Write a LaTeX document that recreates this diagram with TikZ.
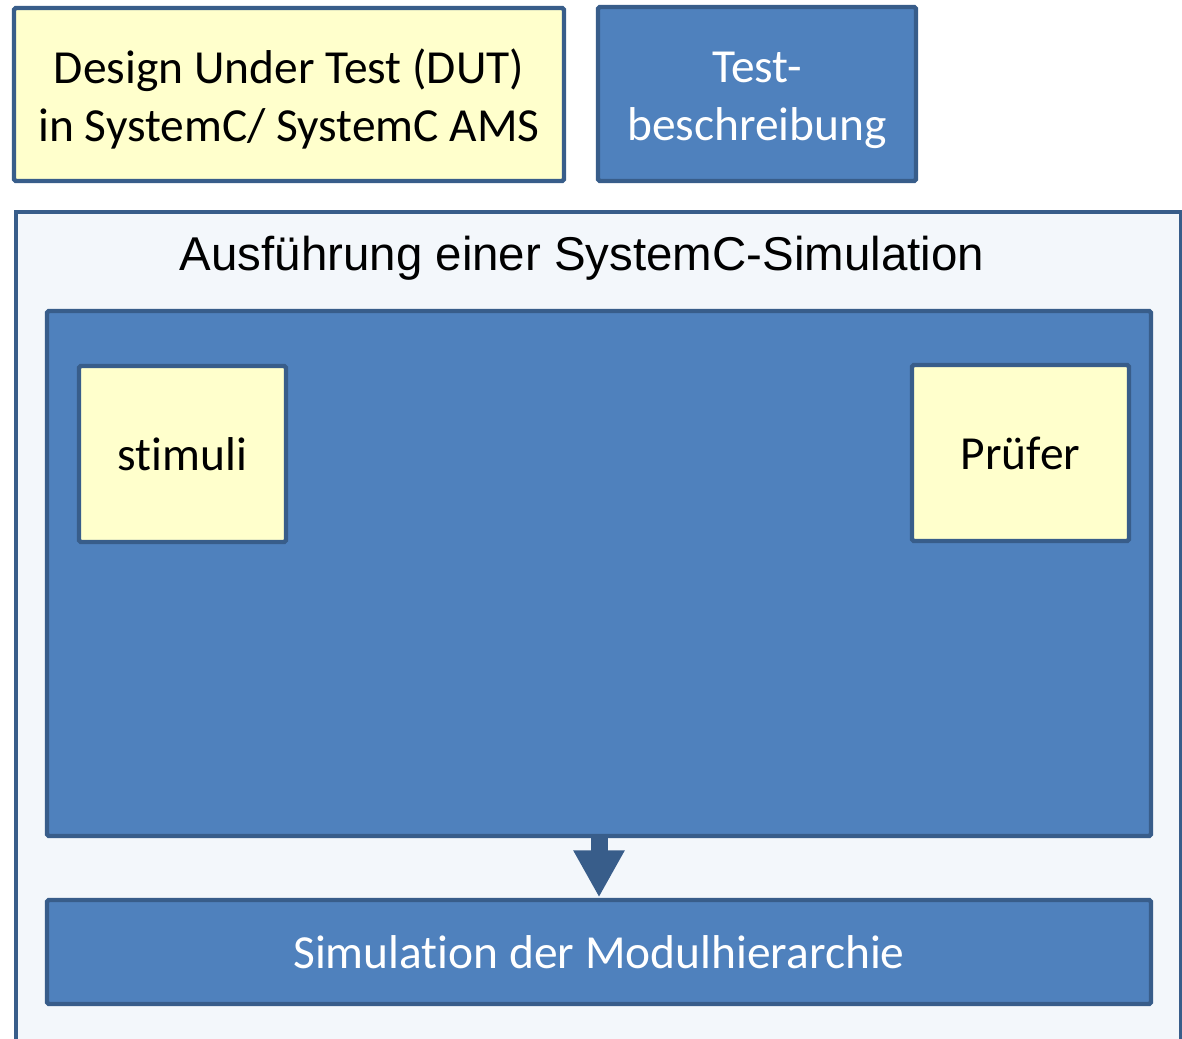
\documentclass[tikz,border=0pt]{standalone}
\usepackage{fontspec}
\setmainfont[Ligatures=NoCommon]{Carlito}
\newfontfamily\arialfont{Liberation Sans}
\usetikzlibrary{arrows.meta}

\definecolor{boxblue}{HTML}{4F81BD}
\definecolor{edgeblue}{HTML}{385D8A}
\definecolor{paleyellow}{HTML}{FFFFCC}
\definecolor{paleback}{HTML}{F3F7FB}

\begin{document}
\begin{tikzpicture}[x=0.2mm,y=-0.2mm,
    box/.style={draw=edgeblue,line width=2.5pt,rounded corners=1pt,inner sep=0pt,outer sep=0pt,
      align=center,font=\fontsize{27}{33}\selectfont},
    yellowbox/.style={box,fill=paleyellow,text=black},
    bluebox/.style={box,fill=boxblue,text=white}]
  \clip (0,0) rectangle (1182,1039);
  \fill[white] (0,0) rectangle (1182,1039);
  % simulation frame, open at the bottom
  \draw[edgeblue,fill=paleback,line width=2.5pt] (16,212) rectangle (1181,1080);
  \node (title) at (582,258) {\arialfont\fontsize{27}{33}\selectfont Ausführung einer SystemC-Simulation};

  \node[yellowbox,minimum width=11cm,minimum height=3.46cm] (dut) at (289,94.5)
    {\rule{0pt}{25pt}Design Under Test (DUT)\\in SystemC/ SystemC AMS};
  \node[bluebox,minimum width=6.36cm,minimum height=3.48cm] (testdesc) at (757,94)
    {\rule{0pt}{24pt}Test-\\beschreibung};

  \node[bluebox,minimum width=22.08cm,minimum height=10.5cm] (testbench) at (599,573.5) {};
  \node[yellowbox,minimum width=4.14cm,minimum height=3.52cm] (stimuli) at (182.5,454) {stimuli};
  \node[yellowbox,minimum width=4.34cm,minimum height=3.52cm] (checker) at (1020.5,453) {Prüfer};

  \node[bluebox,minimum width=22.08cm,minimum height=2.08cm] (hierarchy) at (599,952)
    {Simulation der Modulhierarchie};

  \draw[edgeblue,line width=0.34cm,-{Triangle[width=0.96cm,length=0.94cm]}]
    (testbench.south) -- ([yshift=1.5pt]hierarchy.north);
\end{tikzpicture}
\end{document}
